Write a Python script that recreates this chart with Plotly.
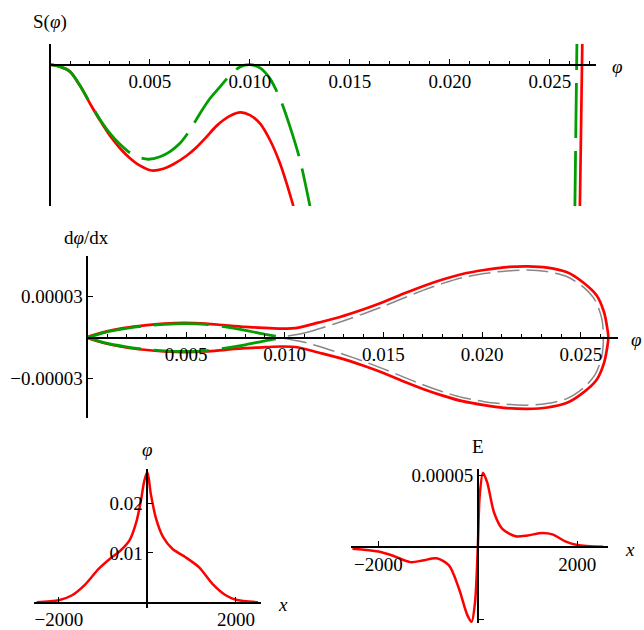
import plotly.graph_objects as go

# ------------------------------------------------------------------
# DATA
# ------------------------------------------------------------------
# Top panel: Sagdeev potential S(phi), arbitrary units (no y tick labels)
s_red_phi = [0, 0.0005, 0.001, 0.0015, 0.002, 0.0025, 0.003, 0.0035, 0.004, 0.0045,
             0.00508, 0.00567, 0.00617, 0.00683, 0.00733, 0.00783, 0.00833, 0.009,
             0.00953, 0.010, 0.0105, 0.011, 0.0115, 0.01183, 0.01217]
s_red_val = [0, -0.02, -0.07, -0.21, -0.39, -0.56, -0.715, -0.84, -0.94, -1.015,
             -1.063, -1.045, -1.0, -0.915, -0.83, -0.725, -0.615, -0.515,
             -0.48, -0.507, -0.59, -0.757, -0.99, -1.19, -1.42]
s_red_phi_right = [0.0265, 0.02662]
s_red_val_right = [-1.42, 0.21]

s_green_phi = [0, 0.0005, 0.001, 0.0015, 0.002, 0.0025, 0.003, 0.0035, 0.004, 0.0045,
               0.00492, 0.0055, 0.006, 0.0065, 0.007, 0.0075, 0.008, 0.0085, 0.009,
               0.0095, 0.010, 0.0105, 0.011, 0.0115, 0.012, 0.0125, 0.013]
s_green_val = [0, -0.02, -0.07, -0.21, -0.385, -0.55, -0.69, -0.80, -0.885, -0.935,
               -0.95, -0.925, -0.873, -0.79, -0.657, -0.49, -0.34, -0.223, -0.107,
               -0.023, 0, -0.033, -0.14, -0.34, -0.623, -0.957, -1.42]
s_green_phi_right = [0.02625, 0.02635]
s_green_val_right = [-1.42, 0.21]

# Middle panel: phase portrait d(phi)/dx vs phi
red_phi_upper = [0, 0.0009, 0.0019, 0.0029, 0.0039, 0.0049, 0.0060, 0.0070, 0.0080,
                 0.0090, 0.00985, 0.0107, 0.0117, 0.0128, 0.0140, 0.0150, 0.0160,
                 0.0170, 0.0180, 0.0190, 0.0201, 0.0211, 0.0223, 0.0233, 0.0243,
                 0.0251, 0.0258, 0.02617, 0.02634, 0.02639]
red_dphi_upper = [0, 4.14e-6, 7.05e-6, 8.93e-6, 1.017e-5, 1.068e-5, 1.017e-5, 8.93e-6,
                  7.77e-6, 7.05e-6, 6.54e-6, 7.26e-6, 1.09e-5, 1.504e-5, 2.063e-5,
                  2.593e-5, 3.196e-5, 3.755e-5, 4.242e-5, 4.649e-5, 4.94e-5, 5.136e-5,
                  5.208e-5, 5.114e-5, 4.772e-5, 4.046e-5, 3.08e-5, 1.867e-5, 6.54e-6, 0]
red_phi_lower = [0.02634, 0.02617, 0.0258, 0.0251, 0.0243, 0.0233, 0.0223, 0.0211,
                 0.0201, 0.0190, 0.0180, 0.0170, 0.0160, 0.0150, 0.0140, 0.0128,
                 0.0117, 0.0107, 0.00985, 0.0090, 0.0080, 0.0070, 0.0060, 0.0049,
                 0.0039, 0.0029, 0.0019, 0.0009, 0]
red_dphi_lower = [-6.54e-6, -1.867e-5, -3.08e-5, -4.046e-5, -4.772e-5, -5.114e-5,
                  -5.208e-5, -5.136e-5, -4.94e-5, -4.649e-5, -4.242e-5, -3.755e-5,
                  -3.196e-5, -2.593e-5, -2.063e-5, -1.504e-5, -1.09e-5, -7.26e-6,
                  -6.54e-6, -7.05e-6, -7.77e-6, -8.93e-6, -1.017e-5, -1.068e-5,
                  -1.017e-5, -8.93e-6, -7.05e-6, -4.14e-6, 0]

green_phi = [0, 0.0009, 0.0019, 0.0029, 0.0039, 0.0049, 0.0060, 0.0070, 0.0080,
             0.0090, 0.00993]
green_dphi_upper = [0, 3.85e-6, 6.54e-6, 8.5e-6, 9.66e-6, 1.017e-5, 9.66e-6, 7.77e-6,
                    5.3e-6, 2.4e-6, 0]
green_dphi_lower = [0, -3.85e-6, -6.54e-6, -8.5e-6, -9.66e-6, -1.017e-5, -9.66e-6,
                    -7.77e-6, -5.3e-6, -2.4e-6, 0]

gray_phi_upper = [0.00993, 0.0110, 0.0120, 0.0130, 0.0140, 0.0150, 0.0160, 0.0170,
                  0.0180, 0.0190, 0.0201, 0.02125, 0.02226, 0.02327, 0.02429,
                  0.02513, 0.02572, 0.02606, 0.02614]
gray_dphi_upper = [0, 3.4e-6, 7.6e-6, 1.235e-5, 1.743e-5, 2.288e-5, 2.87e-5, 3.45e-5,
                   3.96e-5, 4.38e-5, 4.685e-5, 4.867e-5, 4.94e-5, 4.823e-5,
                   4.46e-5, 3.683e-5, 2.717e-5, 1.38e-5, 0]
gray_phi_lower = [0.02606, 0.02572, 0.02513, 0.02429, 0.02327, 0.02226, 0.02125,
                  0.0201, 0.0190, 0.0180, 0.0170, 0.0160, 0.0150, 0.0140, 0.0130,
                  0.0120, 0.0110, 0.00993]
gray_dphi_lower = [-1.38e-5, -2.717e-5, -3.683e-5, -4.46e-5, -4.823e-5, -4.94e-5,
                   -4.867e-5, -4.685e-5, -4.38e-5, -3.96e-5, -3.45e-5, -2.87e-5,
                   -2.288e-5, -1.743e-5, -1.235e-5, -7.6e-6, -3.4e-6, 0]

# Bottom-left: phi(x)
phi_x = [-2500, -2000, -1700, -1400, -1100, -850, -630, -400, -250, -140, -70, 0,
         80, 200, 350, 570, 870, 1170, 1470, 1770, 2000, 2500]
phi_val = [0.0001, 0.0005, 0.0015, 0.0037, 0.0068, 0.0088, 0.0103, 0.0126, 0.0162,
           0.0208, 0.0245, 0.0263, 0.0218, 0.0168, 0.0133, 0.0108, 0.0091, 0.0071,
           0.0038, 0.0015, 0.0006, 0.0001]

# Bottom-right: E(x)
e_x = [-2520, -2000, -1720, -1350, -1110, -830, -580, -380, -210, -125, -55, 0, 38,
       104, 190, 326, 493, 760, 1000, 1300, 1500, 1770, 2000, 2520]
e_val = [-1.0e-6, -3.0e-6, -5.7e-6, -1.03e-5, -9.2e-6, -7.6e-6, -1.26e-5, -2.86e-5,
         -4.7e-5, -5.16e-5, -3.78e-5, 0, 3.56e-5, 5.16e-5, 4.47e-5, 2.41e-5, 1.27e-5,
         7.6e-6, 8.2e-6, 9.9e-6, 8.9e-6, 3.9e-6, 1.6e-6, 3e-7]

# Tick labels
phi_tickvals = [0.005, 0.010, 0.015, 0.020, 0.025]
phi_ticktext = ["0.005", "0.010", "0.015", "0.020", "0.025"]
dphi_tickvals = [-0.00003, 0.00003]
dphi_ticktext = ["\u22120.00003", "0.00003"]
x_tickvals = [-2000, 2000]
x_ticktext = ["\u22122000", "2000"]
phiy_tickvals = [0.01, 0.02]
phiy_ticktext = ["0.01", "0.02"]
e_tickvals = [-0.00005, 0.00005]
e_ticktext = ["\u22120.00005", "0.00005"]

# ------------------------------------------------------------------
# LAYOUT HELPERS
# ------------------------------------------------------------------
W, H = 644, 630
FONT = "Liberation Serif"
RED = "#ff0000"
GREEN = "rgb(0,158,0)"
GRAY = "rgb(135,135,135)"


def xdom(p0, p1):
    return [p0 / W, p1 / W]


def ydom(top, bot):
    return [1 - bot / H, 1 - top / H]


def zero_pos(dom, rng):
    return dom[0] + (0 - rng[0]) / (rng[1] - rng[0]) * (dom[1] - dom[0])


def axis(dom, rng, pos, tickvals=None, ticktext=None, minor_dtick=None, show_ticks=True):
    d = dict(domain=dom, range=rng, anchor="free", position=pos,
             showline=True, linecolor="black", linewidth=1.6,
             showgrid=False, zeroline=False, fixedrange=True,
             tickfont=dict(family=FONT, size=19, color="black"))
    if show_ticks:
        d.update(ticks="inside", ticklen=5, tickwidth=1.3, tickcolor="black",
                 tickmode="array", tickvals=tickvals, ticktext=ticktext)
    else:
        d.update(ticks="", showticklabels=False)
    if minor_dtick:
        d["minor"] = dict(tickmode="linear", tick0=0, dtick=minor_dtick, ticks="inside",
                          ticklen=3.2, tickwidth=1.2, tickcolor="black", showgrid=False)
    return d


# Panel geometry (pixels)
p1x, p1xr = xdom(50, 595.7), [0, 0.02729]
p1y, p1yr = ydom(40, 203.3), [-1.42, 0.21]
p2x, p2xr = xdom(87.3, 618), [0, 0.02688]
p2y, p2yr = ydom(253.3, 416.7), [-5.884e-5, 5.985e-5]
p3x, p3xr = xdom(34, 260.7), [-2560, 2560]
p3y, p3yr = ydom(467.7, 608), [-0.0011, 0.02696]
p4x, p4xr = xdom(351, 608.3), [-2549, 2623]
p4y, p4yr = ydom(467.7, 623), [-5.25e-5, 5.44e-5]

fig = go.Figure()

# Top panel
fig.add_trace(go.Scatter(x=s_red_phi, y=s_red_val, mode="lines", xaxis="x", yaxis="y",
                         line=dict(color=RED, width=2.7, shape="spline", smoothing=0.8)))
fig.add_trace(go.Scatter(x=s_red_phi_right, y=s_red_val_right, mode="lines", xaxis="x", yaxis="y",
                         line=dict(color=RED, width=2.7)))
fig.add_trace(go.Scatter(x=s_green_phi, y=s_green_val, mode="lines", xaxis="x", yaxis="y",
                         line=dict(color=GREEN, width=2.8, dash="55px,13px",
                                   shape="spline", smoothing=0.8)))
fig.add_trace(go.Scatter(x=s_green_phi_right, y=s_green_val_right, mode="lines", xaxis="x", yaxis="y",
                         line=dict(color=GREEN, width=2.8, dash="55px,13px")))

# Middle panel
fig.add_trace(go.Scatter(x=gray_phi_upper + gray_phi_lower, y=gray_dphi_upper + gray_dphi_lower,
                         mode="lines", xaxis="x2", yaxis="y2",
                         line=dict(color=GRAY, width=1.5, dash="22px,7px",
                                   shape="spline", smoothing=0.8)))
fig.add_trace(go.Scatter(x=red_phi_upper + red_phi_lower, y=red_dphi_upper + red_dphi_lower,
                         mode="lines", xaxis="x2", yaxis="y2",
                         line=dict(color=RED, width=2.7, shape="spline", smoothing=0.8)))
fig.add_trace(go.Scatter(x=green_phi, y=green_dphi_upper, mode="lines", xaxis="x2", yaxis="y2",
                         line=dict(color=GREEN, width=2.8, dash="55px,13px",
                                   shape="spline", smoothing=0.8)))
fig.add_trace(go.Scatter(x=green_phi, y=green_dphi_lower, mode="lines", xaxis="x2", yaxis="y2",
                         line=dict(color=GREEN, width=2.8, dash="55px,13px",
                                   shape="spline", smoothing=0.8)))

# Bottom-left
fig.add_trace(go.Scatter(x=phi_x, y=phi_val, mode="lines", xaxis="x3", yaxis="y3",
                         line=dict(color=RED, width=2.5, shape="spline", smoothing=0.8)))
# Bottom-right
fig.add_trace(go.Scatter(x=e_x, y=e_val, mode="lines", xaxis="x4", yaxis="y4",
                         line=dict(color=RED, width=2.5, shape="spline", smoothing=0.8)))

fig.update_layout(
    width=W, height=H, margin=dict(l=0, r=0, t=0, b=0),
    paper_bgcolor="white", plot_bgcolor="rgba(0,0,0,0)", showlegend=False,
    xaxis=axis(p1x, p1xr, zero_pos(p1y, p1yr), phi_tickvals, phi_ticktext, minor_dtick=0.001),
    yaxis=axis(p1y, p1yr, zero_pos(p1x, p1xr), show_ticks=False),
    xaxis2=axis(p2x, p2xr, zero_pos(p2y, p2yr), phi_tickvals, phi_ticktext, minor_dtick=0.001),
    yaxis2=axis(p2y, p2yr, zero_pos(p2x, p2xr), dphi_tickvals, dphi_ticktext),
    xaxis3=axis(p3x, p3xr, zero_pos(p3y, p3yr), x_tickvals, x_ticktext),
    yaxis3=axis(p3y, p3yr, zero_pos(p3x, p3xr), phiy_tickvals, phiy_ticktext),
    xaxis4=axis(p4x, p4xr, zero_pos(p4y, p4yr), x_tickvals, x_ticktext),
    yaxis4=axis(p4y, p4yr, zero_pos(p4x, p4xr), e_tickvals, e_ticktext),
)


def label(text, px, py, anchor="center", size=19):
    fig.add_annotation(text=text, x=px / W, y=1 - py / H, xref="paper", yref="paper",
                       showarrow=False, xanchor=anchor, yanchor="middle",
                       font=dict(family=FONT, size=size, color="black"))


label("S(<i>\u03c6</i>)", 50, 18)
label("<i>\u03c6</i>", 617, 63)
label("d<i>\u03c6</i>/dx", 86, 235)
label("<i>\u03c6</i>", 644, 338, anchor="right")
label("<i>\u03c6</i>", 147, 448)
label("<i>x</i>", 283.3, 604)
label("E", 478.3, 445)
label("<i>x</i>", 630, 549)

fig.write_html("out.html")
